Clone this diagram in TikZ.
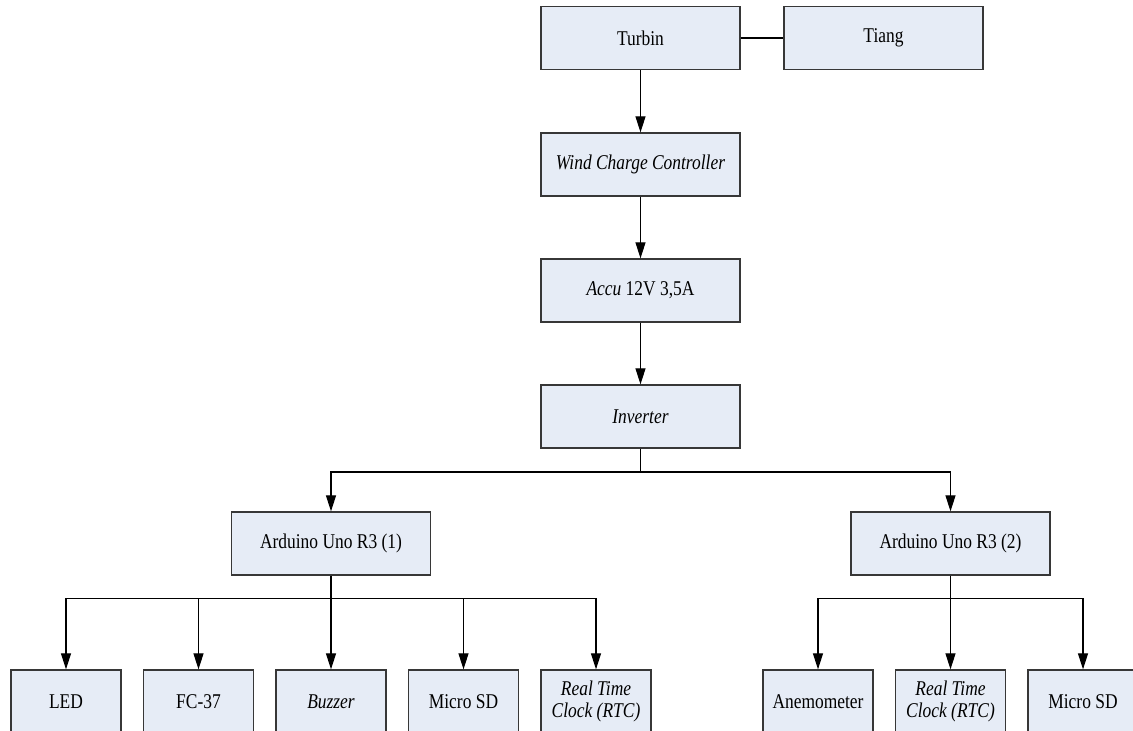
\documentclass[tikz,border=0pt]{standalone}
\usepackage{fontspec}
\setmainfont{Liberation Serif}[FakeStretch=0.83]
\usetikzlibrary{arrows.meta}
\definecolor{boxfill}{RGB}{230,236,246}
\definecolor{boxline}{RGB}{55,55,55}
\tikzset{
  blk/.style={draw=boxline, line width=1.3pt, fill=boxfill, minimum width=199pt, minimum height=63pt, inner sep=0pt, align=center, font=\fontsize{21}{21.5}\selectfont},
  sblk/.style={blk, minimum width=110pt},
  conn/.style={line width=1.1pt, draw=black},
  arr/.style={conn, -{Triangle[length=16pt,width=10pt]}}
}
\begin{document}
\begin{tikzpicture}[x=1pt,y=-1pt]
\useasboundingbox (0,0) rectangle (1133,731);
% main column
\node[blk] (turbin) at (640.5,38) {Turbin};
\node[blk] (tiang) at (883.5,38) {Tiang};
\node[blk] (wcc) at (640.5,164.5) {\textit{Wind Charge Controller}};
\node[blk] (accu) at (640.5,290.5) {\textit{Accu} 12V 3,5A};
\node[blk] (inv) at (640.5,416.5) {\textit{Inverter}};
\node[blk] (ard1) at (331,543.5) {Arduino Uno R3 (1)};
\node[blk] (ard2) at (950.5,543.5) {Arduino Uno R3 (2)};
% bottom row left
\node[sblk] (led) at (66,701.5) {LED};
\node[sblk] (fc) at (198.5,701.5) {FC-37};
\node[sblk] (buz) at (331,701.5) {\textit{Buzzer}};
\node[sblk] (sd1) at (463.5,701.5) {Micro SD};
\node[sblk] (rtc1) at (596,701.5) {\textit{Real Time}\\\textit{Clock (RTC)}};
% bottom row right
\node[sblk] (anem) at (818,701.5) {Anemometer};
\node[sblk] (rtc2) at (950.5,701.5) {\textit{Real Time}\\\textit{Clock (RTC)}};
\node[sblk] (sd2) at (1083,701.5) {Micro SD};
% connectors
\draw[conn] (turbin) -- (tiang);
\draw[arr] (turbin) -- (wcc);
\draw[arr] (wcc) -- (accu);
\draw[arr] (accu) -- (inv);
\coordinate (j1) at (640.5,472);
\draw[conn] (inv) -- (j1);
\draw[arr] (j1) -| (ard1);
\draw[arr] (j1) -| (ard2);
\coordinate (j2) at (331,598.5);
\draw[conn] (ard1) -- (j2);
\foreach \t in {led,fc,buz,sd1,rtc1} \draw[arr] (j2) -| (\t);
\coordinate (j3) at (950.5,598.5);
\draw[conn] (ard2) -- (j3);
\foreach \t in {anem,rtc2,sd2} \draw[arr] (j3) -| (\t);
\end{tikzpicture}
\end{document}
